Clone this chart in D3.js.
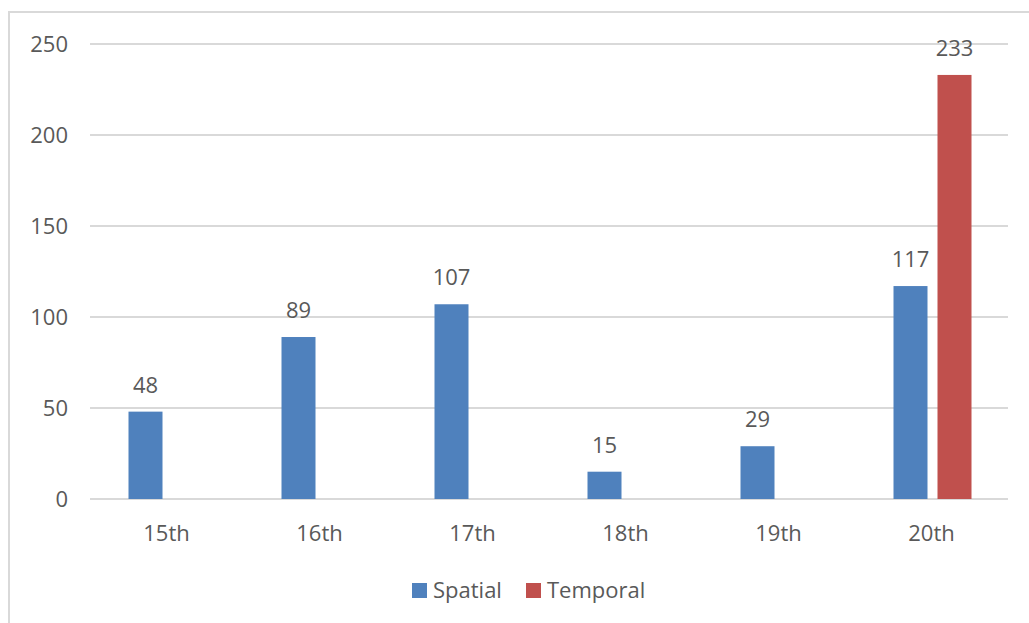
<!DOCTYPE html>
<html><head><meta charset="utf-8">
<script src="https://cdn.jsdelivr.net/npm/d3@7"></script>
<style>body{margin:0;background:#fff}svg{display:block}</style>
</head><body>
<svg id="c" width="1029" height="623"></svg>
<script>
const categories = ["15th","16th","17th","18th","19th","20th"];
const seriesNames = ["Spatial","Temporal"];
const spatial = [48,89,107,15,29,117];
const temporal = [null,null,null,null,null,233];
const yTicks = [0,50,100,150,200,250];
const colors = ["#4F81BD","#C0504D"];

const svg = d3.select("#c");
const font = "'Open Sans', sans-serif";
const fs = 22;
const txt = "#595959";
// border
svg.append("rect").attr("x",9).attr("y",12).attr("width",1100).attr("height",700)
  .attr("fill","none").attr("stroke","#d9d9d9").attr("stroke-width",2);

const x = d3.scaleBand().domain(categories).range([90,1008]);
const y = d3.scaleLinear().domain([0,250]).range([499,44]);

// gridlines
svg.append("g").selectAll("line").data(yTicks).join("line")
  .attr("x1",90).attr("x2",1008).attr("y1",d=>y(d)).attr("y2",d=>y(d))
  .attr("stroke","#d9d9d9").attr("stroke-width",2);

// y labels
const yAxis = d3.axisLeft(y).tickValues(yTicks).tickSize(0).tickPadding(0);
const ya = svg.append("g").attr("transform","translate(68,0)").call(yAxis);
ya.select(".domain").remove();
ya.selectAll("text").attr("font-family",font).attr("font-size",fs).attr("fill",txt).attr("dy","0.35em");

// x labels
const xAxis = d3.axisBottom(x).tickSize(0).tickPadding(0);
const xa = svg.append("g").attr("transform","translate(0,533)").call(xAxis);
xa.select(".domain").remove();
xa.selectAll("text").attr("font-family",font).attr("font-size",fs).attr("fill",txt).attr("dy","0.35em");

const bw = 34, gap = 10;
const data = [];
categories.forEach((c,i)=>{
  [spatial[i],temporal[i]].forEach((v,s)=>{
    if(v!=null) data.push({c,v,s});
  });
});
const bx = d=> x(d.c)+x.bandwidth()/2 + (d.s===0 ? -gap/2-bw+1 : gap/2+1);
svg.append("g").selectAll("rect").data(data).join("rect")
  .attr("x",bx).attr("width",bw)
  .attr("y",d=>y(d.v)).attr("height",d=>y(0)-y(d.v))
  .attr("fill",d=>colors[d.s]);
svg.append("g").selectAll("text").data(data).join("text")
  .attr("x",d=>bx(d)+bw/2).attr("y",d=>y(d.v)-19)
  .attr("text-anchor","middle").attr("font-family",font).attr("font-size",fs).attr("fill",txt)
  .text(d=>d.v);

// legend
const leg = [{n:seriesNames[0],x:412,c:colors[0]},{n:seriesNames[1],x:526,c:colors[1]}];
const lg = svg.append("g");
lg.selectAll("rect").data(leg).join("rect").attr("x",d=>d.x).attr("y",583).attr("width",15).attr("height",15).attr("fill",d=>d.c);
lg.selectAll("text").data(leg).join("text").attr("x",d=>d.x+21).attr("y",590).attr("dy","0.35em")
  .attr("font-family",font).attr("font-size",fs).attr("fill",txt).text(d=>d.n);
</script>
</body></html>
